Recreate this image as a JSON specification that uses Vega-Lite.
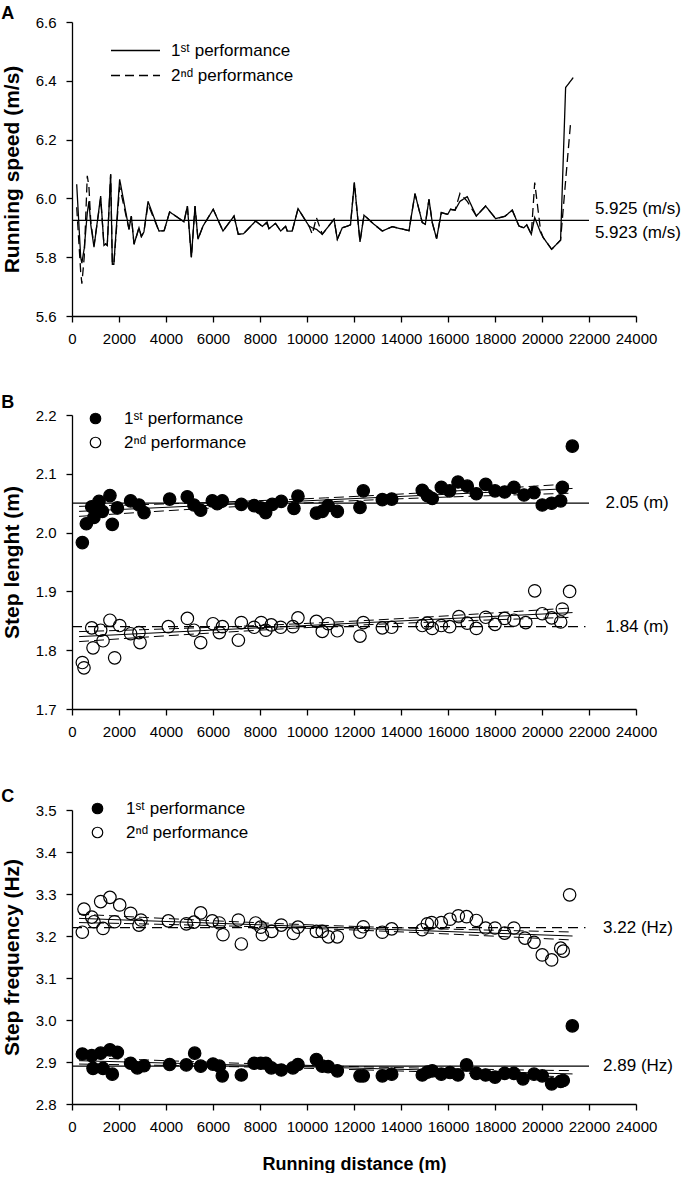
{
  "$schema": "https://vega.github.io/schema/vega-lite/v6.json",
  "padding": {"left": 1, "top": 5, "right": 0, "bottom": 0},
  "background": "white",
  "spacing": 48,
  "datasets": {
    "one": [{}],
    "speed": [
      {"d":200,"v":6.048,"p":"1st"},{"d":370,"v":5.80,"p":"1st"},{"d":420,"v":5.78,"p":"1st"},{"d":520,"v":5.83,"p":"1st"},{"d":650,"v":5.95,"p":"1st"},{"d":720,"v":5.99,"p":"1st"},{"d":800,"v":5.91,"p":"1st"},{"d":936,"v":5.834,"p":"1st"},{"d":1220,"v":6.008,"p":"1st"},{"d":1360,"v":5.84,"p":"1st"},{"d":1433,"v":5.845,"p":"1st"},{"d":1500,"v":5.84,"p":"1st"},{"d":1645,"v":6.082,"p":"1st"},{"d":1716,"v":5.776,"p":"1st"},{"d":1780,"v":5.776,"p":"1st"},{"d":2028,"v":6.065,"p":"1st"},{"d":2425,"v":5.895,"p":"1st"},{"d":2525,"v":5.94,"p":"1st"},{"d":2640,"v":5.844,"p":"1st"},{"d":2850,"v":5.90,"p":"1st"},{"d":2950,"v":5.87,"p":"1st"},{"d":3060,"v":5.886,"p":"1st"},{"d":3235,"v":5.99,"p":"1st"},{"d":3700,"v":5.889,"p":"1st"},{"d":3920,"v":5.89,"p":"1st"},{"d":4155,"v":5.954,"p":"1st"},{"d":4500,"v":5.935,"p":"1st"},{"d":4765,"v":5.92,"p":"1st"},{"d":4910,"v":5.974,"p":"1st"},{"d":5080,"v":5.799,"p":"1st"},{"d":5235,"v":5.974,"p":"1st"},{"d":5360,"v":5.861,"p":"1st"},{"d":5575,"v":5.906,"p":"1st"},{"d":6010,"v":5.963,"p":"1st"},{"d":6425,"v":5.889,"p":"1st"},{"d":6895,"v":5.94,"p":"1st"},{"d":7075,"v":5.878,"p":"1st"},{"d":7300,"v":5.88,"p":"1st"},{"d":7815,"v":5.923,"p":"1st"},{"d":8100,"v":5.905,"p":"1st"},{"d":8300,"v":5.92,"p":"1st"},{"d":8380,"v":5.897,"p":"1st"},{"d":8660,"v":5.915,"p":"1st"},{"d":8880,"v":5.889,"p":"1st"},{"d":9090,"v":5.905,"p":"1st"},{"d":9160,"v":5.889,"p":"1st"},{"d":9370,"v":5.889,"p":"1st"},{"d":9620,"v":5.965,"p":"1st"},{"d":10085,"v":5.906,"p":"1st"},{"d":10225,"v":5.90,"p":"1st"},{"d":10400,"v":5.895,"p":"1st"},{"d":10650,"v":5.878,"p":"1st"},{"d":11150,"v":5.929,"p":"1st"},{"d":11290,"v":5.861,"p":"1st"},{"d":11500,"v":5.90,"p":"1st"},{"d":11720,"v":5.906,"p":"1st"},{"d":11850,"v":5.91,"p":"1st"},{"d":12015,"v":6.054,"p":"1st"},{"d":12255,"v":5.852,"p":"1st"},{"d":12425,"v":5.943,"p":"1st"},{"d":12850,"v":5.912,"p":"1st"},{"d":13205,"v":5.889,"p":"1st"},{"d":13630,"v":5.904,"p":"1st"},{"d":14340,"v":5.89,"p":"1st"},{"d":14595,"v":6.016,"p":"1st"},{"d":14905,"v":5.918,"p":"1st"},{"d":15035,"v":5.912,"p":"1st"},{"d":15190,"v":5.997,"p":"1st"},{"d":15330,"v":5.918,"p":"1st"},{"d":15515,"v":5.863,"p":"1st"},{"d":15715,"v":5.952,"p":"1st"},{"d":15990,"v":5.946,"p":"1st"},{"d":16110,"v":5.963,"p":"1st"},{"d":16300,"v":5.96,"p":"1st"},{"d":16510,"v":5.99,"p":"1st"},{"d":16820,"v":6.006,"p":"1st"},{"d":17205,"v":5.94,"p":"1st"},{"d":17600,"v":5.974,"p":"1st"},{"d":18030,"v":5.931,"p":"1st"},{"d":18420,"v":5.939,"p":"1st"},{"d":18735,"v":5.96,"p":"1st"},{"d":19020,"v":5.906,"p":"1st"},{"d":19220,"v":5.90,"p":"1st"},{"d":19350,"v":5.91,"p":"1st"},{"d":19545,"v":5.878,"p":"1st"},{"d":19690,"v":5.935,"p":"1st"},{"d":19940,"v":5.884,"p":"1st"},{"d":20050,"v":5.867,"p":"1st"},{"d":20410,"v":5.827,"p":"1st"},{"d":20790,"v":5.858,"p":"1st"},{"d":21005,"v":6.377,"p":"1st"},{"d":21330,"v":6.411,"p":"1st"},
      {"d":200,"v":5.97,"p":"2nd"},{"d":370,"v":5.75,"p":"2nd"},{"d":420,"v":5.71,"p":"2nd"},{"d":520,"v":5.80,"p":"2nd"},{"d":650,"v":6.077,"p":"2nd"},{"d":720,"v":6.04,"p":"2nd"},{"d":800,"v":5.92,"p":"2nd"},{"d":936,"v":5.84,"p":"2nd"},{"d":1220,"v":6.0,"p":"2nd"},{"d":1360,"v":5.84,"p":"2nd"},{"d":1433,"v":5.845,"p":"2nd"},{"d":1500,"v":5.84,"p":"2nd"},{"d":1645,"v":6.082,"p":"2nd"},{"d":1716,"v":5.78,"p":"2nd"},{"d":1780,"v":5.776,"p":"2nd"},{"d":2028,"v":6.04,"p":"2nd"},{"d":2425,"v":5.895,"p":"2nd"},{"d":2525,"v":5.94,"p":"2nd"},{"d":2640,"v":5.844,"p":"2nd"},{"d":2850,"v":5.90,"p":"2nd"},{"d":2950,"v":5.87,"p":"2nd"},{"d":3060,"v":5.886,"p":"2nd"},{"d":3235,"v":5.98,"p":"2nd"},{"d":3700,"v":5.889,"p":"2nd"},{"d":3920,"v":5.89,"p":"2nd"},{"d":4155,"v":5.954,"p":"2nd"},{"d":4500,"v":5.935,"p":"2nd"},{"d":4765,"v":5.92,"p":"2nd"},{"d":4910,"v":5.974,"p":"2nd"},{"d":5080,"v":5.80,"p":"2nd"},{"d":5235,"v":5.974,"p":"2nd"},{"d":5360,"v":5.861,"p":"2nd"},{"d":5575,"v":5.906,"p":"2nd"},{"d":6010,"v":5.963,"p":"2nd"},{"d":6425,"v":5.889,"p":"2nd"},{"d":6895,"v":5.94,"p":"2nd"},{"d":7075,"v":5.878,"p":"2nd"},{"d":7300,"v":5.88,"p":"2nd"},{"d":7815,"v":5.923,"p":"2nd"},{"d":8100,"v":5.905,"p":"2nd"},{"d":8300,"v":5.915,"p":"2nd"},{"d":8380,"v":5.897,"p":"2nd"},{"d":8660,"v":5.915,"p":"2nd"},{"d":8880,"v":5.889,"p":"2nd"},{"d":9090,"v":5.905,"p":"2nd"},{"d":9160,"v":5.889,"p":"2nd"},{"d":9370,"v":5.889,"p":"2nd"},{"d":9620,"v":5.965,"p":"2nd"},{"d":10085,"v":5.906,"p":"2nd"},{"d":10225,"v":5.878,"p":"2nd"},{"d":10400,"v":5.935,"p":"2nd"},{"d":10650,"v":5.878,"p":"2nd"},{"d":11150,"v":5.929,"p":"2nd"},{"d":11290,"v":5.861,"p":"2nd"},{"d":11500,"v":5.90,"p":"2nd"},{"d":11720,"v":5.906,"p":"2nd"},{"d":11850,"v":5.91,"p":"2nd"},{"d":12015,"v":6.054,"p":"2nd"},{"d":12255,"v":5.852,"p":"2nd"},{"d":12425,"v":5.943,"p":"2nd"},{"d":12850,"v":5.912,"p":"2nd"},{"d":13205,"v":5.889,"p":"2nd"},{"d":13630,"v":5.904,"p":"2nd"},{"d":14340,"v":5.89,"p":"2nd"},{"d":14595,"v":6.016,"p":"2nd"},{"d":14905,"v":5.918,"p":"2nd"},{"d":15035,"v":5.912,"p":"2nd"},{"d":15190,"v":5.997,"p":"2nd"},{"d":15330,"v":5.918,"p":"2nd"},{"d":15515,"v":5.863,"p":"2nd"},{"d":15715,"v":5.952,"p":"2nd"},{"d":15990,"v":5.946,"p":"2nd"},{"d":16110,"v":5.963,"p":"2nd"},{"d":16300,"v":5.96,"p":"2nd"},{"d":16510,"v":6.017,"p":"2nd"},{"d":16820,"v":5.99,"p":"2nd"},{"d":17205,"v":5.94,"p":"2nd"},{"d":17600,"v":5.974,"p":"2nd"},{"d":18030,"v":5.931,"p":"2nd"},{"d":18420,"v":5.939,"p":"2nd"},{"d":18735,"v":5.96,"p":"2nd"},{"d":19020,"v":5.906,"p":"2nd"},{"d":19220,"v":5.90,"p":"2nd"},{"d":19350,"v":5.91,"p":"2nd"},{"d":19545,"v":5.878,"p":"2nd"},{"d":19690,"v":6.054,"p":"2nd"},{"d":19940,"v":5.89,"p":"2nd"},{"d":20050,"v":5.867,"p":"2nd"},{"d":20410,"v":5.827,"p":"2nd"},{"d":20790,"v":5.858,"p":"2nd"},{"d":21005,"v":6.06,"p":"2nd"},{"d":21220,"v":6.26,"p":"2nd"}
    ],
    "stepLen": [
      {"d":440,"v":1.983,"p":"1st"},{"d":610,"v":2.015,"p":"1st"},{"d":840,"v":2.044,"p":"1st"},{"d":935,"v":2.026,"p":"1st"},{"d":1150,"v":2.053,"p":"1st"},{"d":1290,"v":2.036,"p":"1st"},{"d":1615,"v":2.063,"p":"1st"},{"d":1715,"v":2.014,"p":"1st"},{"d":1930,"v":2.042,"p":"1st"},{"d":2495,"v":2.054,"p":"1st"},{"d":2850,"v":2.047,"p":"1st"},{"d":3065,"v":2.034,"p":"1st"},{"d":4155,"v":2.057,"p":"1st"},{"d":4905,"v":2.061,"p":"1st"},{"d":5190,"v":2.047,"p":"1st"},{"d":5475,"v":2.038,"p":"1st"},{"d":5970,"v":2.054,"p":"1st"},{"d":6180,"v":2.049,"p":"1st"},{"d":6395,"v":2.054,"p":"1st"},{"d":7205,"v":2.048,"p":"1st"},{"d":7750,"v":2.046,"p":"1st"},{"d":8030,"v":2.042,"p":"1st"},{"d":8240,"v":2.034,"p":"1st"},{"d":8520,"v":2.048,"p":"1st"},{"d":8905,"v":2.053,"p":"1st"},{"d":9445,"v":2.041,"p":"1st"},{"d":9615,"v":2.062,"p":"1st"},{"d":10400,"v":2.033,"p":"1st"},{"d":10650,"v":2.036,"p":"1st"},{"d":10900,"v":2.046,"p":"1st"},{"d":11290,"v":2.036,"p":"1st"},{"d":12255,"v":2.043,"p":"1st"},{"d":12395,"v":2.071,"p":"1st"},{"d":13205,"v":2.056,"p":"1st"},{"d":13605,"v":2.057,"p":"1st"},{"d":14905,"v":2.072,"p":"1st"},{"d":15120,"v":2.063,"p":"1st"},{"d":15330,"v":2.058,"p":"1st"},{"d":15715,"v":2.077,"p":"1st"},{"d":16070,"v":2.071,"p":"1st"},{"d":16425,"v":2.086,"p":"1st"},{"d":16820,"v":2.079,"p":"1st"},{"d":17205,"v":2.066,"p":"1st"},{"d":17605,"v":2.082,"p":"1st"},{"d":18000,"v":2.071,"p":"1st"},{"d":18410,"v":2.069,"p":"1st"},{"d":18805,"v":2.077,"p":"1st"},{"d":19235,"v":2.064,"p":"1st"},{"d":19660,"v":2.068,"p":"1st"},{"d":20010,"v":2.047,"p":"1st"},{"d":20410,"v":2.050,"p":"1st"},{"d":20795,"v":2.054,"p":"1st"},{"d":20865,"v":2.077,"p":"1st"},{"d":21290,"v":2.147,"p":"1st"},
      {"d":440,"v":1.779,"p":"2nd"},{"d":510,"v":1.770,"p":"2nd"},{"d":840,"v":1.838,"p":"2nd"},{"d":895,"v":1.804,"p":"2nd"},{"d":1220,"v":1.834,"p":"2nd"},{"d":1320,"v":1.816,"p":"2nd"},{"d":1615,"v":1.851,"p":"2nd"},{"d":1815,"v":1.787,"p":"2nd"},{"d":2030,"v":1.842,"p":"2nd"},{"d":2495,"v":1.828,"p":"2nd"},{"d":2850,"v":1.830,"p":"2nd"},{"d":2895,"v":1.813,"p":"2nd"},{"d":4100,"v":1.840,"p":"2nd"},{"d":4910,"v":1.854,"p":"2nd"},{"d":5190,"v":1.834,"p":"2nd"},{"d":5475,"v":1.813,"p":"2nd"},{"d":6000,"v":1.845,"p":"2nd"},{"d":6270,"v":1.830,"p":"2nd"},{"d":6400,"v":1.840,"p":"2nd"},{"d":7080,"v":1.817,"p":"2nd"},{"d":7205,"v":1.847,"p":"2nd"},{"d":7750,"v":1.839,"p":"2nd"},{"d":8050,"v":1.847,"p":"2nd"},{"d":8250,"v":1.834,"p":"2nd"},{"d":8480,"v":1.843,"p":"2nd"},{"d":8880,"v":1.839,"p":"2nd"},{"d":9400,"v":1.840,"p":"2nd"},{"d":9615,"v":1.855,"p":"2nd"},{"d":10400,"v":1.849,"p":"2nd"},{"d":10650,"v":1.832,"p":"2nd"},{"d":10900,"v":1.845,"p":"2nd"},{"d":11290,"v":1.833,"p":"2nd"},{"d":12255,"v":1.824,"p":"2nd"},{"d":12395,"v":1.847,"p":"2nd"},{"d":13205,"v":1.838,"p":"2nd"},{"d":13605,"v":1.839,"p":"2nd"},{"d":14905,"v":1.842,"p":"2nd"},{"d":15120,"v":1.846,"p":"2nd"},{"d":15330,"v":1.837,"p":"2nd"},{"d":15715,"v":1.842,"p":"2nd"},{"d":16070,"v":1.840,"p":"2nd"},{"d":16465,"v":1.857,"p":"2nd"},{"d":16820,"v":1.846,"p":"2nd"},{"d":17205,"v":1.837,"p":"2nd"},{"d":17605,"v":1.856,"p":"2nd"},{"d":18000,"v":1.844,"p":"2nd"},{"d":18410,"v":1.854,"p":"2nd"},{"d":18805,"v":1.851,"p":"2nd"},{"d":19310,"v":1.847,"p":"2nd"},{"d":19690,"v":1.901,"p":"2nd"},{"d":20010,"v":1.862,"p":"2nd"},{"d":20410,"v":1.855,"p":"2nd"},{"d":20795,"v":1.848,"p":"2nd"},{"d":20865,"v":1.870,"p":"2nd"},{"d":21175,"v":1.900,"p":"2nd"}
    ],
    "stepFreq": [
      {"d":440,"v":2.919,"p":"1st"},{"d":840,"v":2.915,"p":"1st"},{"d":895,"v":2.885,"p":"1st"},{"d":1220,"v":2.921,"p":"1st"},{"d":1320,"v":2.885,"p":"1st"},{"d":1615,"v":2.929,"p":"1st"},{"d":1715,"v":2.871,"p":"1st"},{"d":1930,"v":2.923,"p":"1st"},{"d":2495,"v":2.897,"p":"1st"},{"d":2780,"v":2.886,"p":"1st"},{"d":3065,"v":2.891,"p":"1st"},{"d":4155,"v":2.894,"p":"1st"},{"d":4865,"v":2.893,"p":"1st"},{"d":5220,"v":2.921,"p":"1st"},{"d":5475,"v":2.89,"p":"1st"},{"d":6000,"v":2.895,"p":"1st"},{"d":6270,"v":2.890,"p":"1st"},{"d":6395,"v":2.867,"p":"1st"},{"d":7205,"v":2.869,"p":"1st"},{"d":7750,"v":2.897,"p":"1st"},{"d":8030,"v":2.897,"p":"1st"},{"d":8250,"v":2.897,"p":"1st"},{"d":8480,"v":2.886,"p":"1st"},{"d":8905,"v":2.881,"p":"1st"},{"d":9400,"v":2.886,"p":"1st"},{"d":9615,"v":2.894,"p":"1st"},{"d":10400,"v":2.906,"p":"1st"},{"d":10650,"v":2.890,"p":"1st"},{"d":10900,"v":2.889,"p":"1st"},{"d":11290,"v":2.879,"p":"1st"},{"d":12255,"v":2.867,"p":"1st"},{"d":12395,"v":2.867,"p":"1st"},{"d":13205,"v":2.867,"p":"1st"},{"d":13605,"v":2.871,"p":"1st"},{"d":14905,"v":2.869,"p":"1st"},{"d":15120,"v":2.876,"p":"1st"},{"d":15330,"v":2.879,"p":"1st"},{"d":15715,"v":2.871,"p":"1st"},{"d":16085,"v":2.875,"p":"1st"},{"d":16425,"v":2.869,"p":"1st"},{"d":16790,"v":2.893,"p":"1st"},{"d":17205,"v":2.873,"p":"1st"},{"d":17600,"v":2.869,"p":"1st"},{"d":18000,"v":2.864,"p":"1st"},{"d":18410,"v":2.873,"p":"1st"},{"d":18805,"v":2.873,"p":"1st"},{"d":19190,"v":2.860,"p":"1st"},{"d":19660,"v":2.871,"p":"1st"},{"d":20010,"v":2.867,"p":"1st"},{"d":20410,"v":2.848,"p":"1st"},{"d":20795,"v":2.854,"p":"1st"},{"d":20905,"v":2.856,"p":"1st"},{"d":21290,"v":2.986,"p":"1st"},
      {"d":440,"v":3.209,"p":"2nd"},{"d":510,"v":3.264,"p":"2nd"},{"d":840,"v":3.245,"p":"2nd"},{"d":935,"v":3.234,"p":"2nd"},{"d":1220,"v":3.282,"p":"2nd"},{"d":1320,"v":3.218,"p":"2nd"},{"d":1615,"v":3.292,"p":"2nd"},{"d":1815,"v":3.234,"p":"2nd"},{"d":2030,"v":3.274,"p":"2nd"},{"d":2495,"v":3.254,"p":"2nd"},{"d":2850,"v":3.226,"p":"2nd"},{"d":2935,"v":3.238,"p":"2nd"},{"d":4100,"v":3.236,"p":"2nd"},{"d":4865,"v":3.229,"p":"2nd"},{"d":5190,"v":3.233,"p":"2nd"},{"d":5475,"v":3.255,"p":"2nd"},{"d":5970,"v":3.236,"p":"2nd"},{"d":6270,"v":3.231,"p":"2nd"},{"d":6425,"v":3.203,"p":"2nd"},{"d":7080,"v":3.238,"p":"2nd"},{"d":7205,"v":3.181,"p":"2nd"},{"d":7815,"v":3.231,"p":"2nd"},{"d":8030,"v":3.221,"p":"2nd"},{"d":8100,"v":3.203,"p":"2nd"},{"d":8500,"v":3.211,"p":"2nd"},{"d":8905,"v":3.226,"p":"2nd"},{"d":9420,"v":3.206,"p":"2nd"},{"d":9615,"v":3.221,"p":"2nd"},{"d":10400,"v":3.211,"p":"2nd"},{"d":10650,"v":3.211,"p":"2nd"},{"d":10910,"v":3.198,"p":"2nd"},{"d":11290,"v":3.198,"p":"2nd"},{"d":12255,"v":3.209,"p":"2nd"},{"d":12395,"v":3.222,"p":"2nd"},{"d":13205,"v":3.209,"p":"2nd"},{"d":13605,"v":3.217,"p":"2nd"},{"d":14905,"v":3.215,"p":"2nd"},{"d":15120,"v":3.229,"p":"2nd"},{"d":15305,"v":3.232,"p":"2nd"},{"d":15715,"v":3.232,"p":"2nd"},{"d":16085,"v":3.240,"p":"2nd"},{"d":16440,"v":3.248,"p":"2nd"},{"d":16790,"v":3.246,"p":"2nd"},{"d":17205,"v":3.237,"p":"2nd"},{"d":17600,"v":3.219,"p":"2nd"},{"d":18000,"v":3.219,"p":"2nd"},{"d":18410,"v":3.207,"p":"2nd"},{"d":18805,"v":3.219,"p":"2nd"},{"d":19275,"v":3.195,"p":"2nd"},{"d":19660,"v":3.185,"p":"2nd"},{"d":20010,"v":3.155,"p":"2nd"},{"d":20410,"v":3.143,"p":"2nd"},{"d":20795,"v":3.171,"p":"2nd"},{"d":20905,"v":3.164,"p":"2nd"},{"d":21175,"v":3.298,"p":"2nd"}
    ],
    "fitLen": [
      {"d":300,"v":2.0361,"p":"1st","k":"fit"},{"d":21300,"v":2.0751,"p":"1st","k":"fit"},
      {"d":300,"v":2.0446,"p":"1st","k":"hi"},{"d":3000,"v":2.0476,"p":"1st","k":"hi"},{"d":6000,"v":2.0515,"p":"1st","k":"hi"},{"d":10800,"v":2.0591,"p":"1st","k":"hi"},{"d":16000,"v":2.0701,"p":"1st","k":"hi"},{"d":19000,"v":2.0773,"p":"1st","k":"hi"},{"d":21300,"v":2.0831,"p":"1st","k":"hi"},
      {"d":300,"v":2.0276,"p":"1st","k":"lo"},{"d":3000,"v":2.0346,"p":"1st","k":"lo"},{"d":6000,"v":2.0419,"p":"1st","k":"lo"},{"d":10800,"v":2.0521,"p":"1st","k":"lo"},{"d":16000,"v":2.0605,"p":"1st","k":"lo"},{"d":19000,"v":2.0643,"p":"1st","k":"lo"},{"d":21300,"v":2.0671,"p":"1st","k":"lo"},
      {"d":300,"v":1.8231,"p":"2nd","k":"fit"},{"d":21300,"v":1.8640,"p":"2nd","k":"fit"},
      {"d":300,"v":1.8316,"p":"2nd","k":"hi"},{"d":3000,"v":1.8349,"p":"2nd","k":"hi"},{"d":6000,"v":1.8390,"p":"2nd","k":"hi"},{"d":10800,"v":1.8471,"p":"2nd","k":"hi"},{"d":16000,"v":1.8585,"p":"2nd","k":"hi"},{"d":19000,"v":1.8661,"p":"2nd","k":"hi"},{"d":21300,"v":1.8720,"p":"2nd","k":"hi"},
      {"d":300,"v":1.8146,"p":"2nd","k":"lo"},{"d":3000,"v":1.8219,"p":"2nd","k":"lo"},{"d":6000,"v":1.8294,"p":"2nd","k":"lo"},{"d":10800,"v":1.8401,"p":"2nd","k":"lo"},{"d":16000,"v":1.8489,"p":"2nd","k":"lo"},{"d":19000,"v":1.8531,"p":"2nd","k":"lo"},{"d":21300,"v":1.8560,"p":"2nd","k":"lo"}
    ],
    "fitFreq": [
      {"d":300,"v":3.2420,"p":"2nd","k":"fit"},{"d":21300,"v":3.2000,"p":"2nd","k":"fit"},
      {"d":300,"v":3.2520,"p":"2nd","k":"hi"},{"d":3000,"v":3.2444,"p":"2nd","k":"hi"},{"d":6000,"v":3.2364,"p":"2nd","k":"hi"},{"d":10800,"v":3.2252,"p":"2nd","k":"hi"},{"d":16000,"v":3.2164,"p":"2nd","k":"hi"},{"d":19000,"v":3.2124,"p":"2nd","k":"hi"},{"d":21300,"v":3.2095,"p":"2nd","k":"hi"},
      {"d":300,"v":3.2320,"p":"2nd","k":"lo"},{"d":3000,"v":3.2288,"p":"2nd","k":"lo"},{"d":6000,"v":3.2248,"p":"2nd","k":"lo"},{"d":10800,"v":3.2168,"p":"2nd","k":"lo"},{"d":16000,"v":3.2048,"p":"2nd","k":"lo"},{"d":19000,"v":3.1968,"p":"2nd","k":"lo"},{"d":21300,"v":3.1905,"p":"2nd","k":"lo"},
      {"d":300,"v":2.9031,"p":"1st","k":"fit"},{"d":21300,"v":2.8716,"p":"1st","k":"fit"},
      {"d":300,"v":2.9111,"p":"1st","k":"hi"},{"d":3000,"v":2.9052,"p":"1st","k":"hi"},{"d":6000,"v":2.8992,"p":"1st","k":"hi"},{"d":10800,"v":2.8908,"p":"1st","k":"hi"},{"d":16000,"v":2.8842,"p":"1st","k":"hi"},{"d":19000,"v":2.8812,"p":"1st","k":"hi"},{"d":21300,"v":2.8794,"p":"1st","k":"hi"},
      {"d":300,"v":2.8951,"p":"1st","k":"lo"},{"d":3000,"v":2.8928,"p":"1st","k":"lo"},{"d":6000,"v":2.8898,"p":"1st","k":"lo"},{"d":10800,"v":2.8838,"p":"1st","k":"lo"},{"d":16000,"v":2.8748,"p":"1st","k":"lo"},{"d":19000,"v":2.8688,"p":"1st","k":"lo"},{"d":21300,"v":2.8638,"p":"1st","k":"lo"}
    ]
  },
  "vconcat": [
    {
      "width": 564, "height": 294,
      "title": {"text": "A", "offset": -8},
      "encoding": {
        "x": {"type": "quantitative", "scale": {"domain": [0, 24000], "nice": false}, "axis": {"title": null, "values": [0,2000,4000,6000,8000,10000,12000,14000,16000,18000,20000,22000,24000], "format": "d"}}
      },
      "layer": [
        {
          "data": {"name": "speed"},
          "mark": {"type": "line", "color": "black", "strokeWidth": 1.3},
          "encoding": {
            "x": {"field": "d", "type": "quantitative"},
            "y": {"field": "v", "type": "quantitative", "scale": {"domain": [5.6, 6.6], "nice": false, "zero": false}, "axis": {"title": "Running speed (m/s)", "values": [5.6,5.8,6.0,6.2,6.4,6.6], "format": ".1f"}},
            "strokeDash": {"field": "p", "type": "nominal", "scale": {"domain": ["1st", "2nd"], "range": [[1, 0], [9, 5]]},
              "legend": {"orient": "none", "legendX": 38, "legendY": 16, "title": null, "symbolType": "stroke", "symbolSize": 2400, "symbolStrokeWidth": 1.3, "symbolStrokeColor": "black", "clipHeight": 25, "rowPadding": 0, "labelFontSize": 17, "labelOffset": 10, "labelExpr": "datum.label == '1st' ? '1ˢᵗ performance' : '2ⁿᵈ performance'"}}
          }
        },
        {
          "data": {"name": "one"},
          "mark": {"type": "rule", "color": "black", "strokeWidth": 1.3},
          "encoding": {"x": {"datum": 0}, "x2": {"datum": 22000}, "y": {"datum": 5.925}}
        },
        {
          "data": {"name": "one"},
          "mark": {"type": "text", "align": "left", "baseline": "middle", "fontSize": 17, "dy": -11, "color": "black"},
          "encoding": {"x": {"datum": 22250}, "y": {"datum": 5.925}, "text": {"value": "5.925 (m/s)"}}
        },
        {
          "data": {"name": "one"},
          "mark": {"type": "text", "align": "left", "baseline": "middle", "fontSize": 17, "dy": 13, "color": "black"},
          "encoding": {"x": {"datum": 22250}, "y": {"datum": 5.925}, "text": {"value": "5.923 (m/s)"}}
        }
      ]
    },
    {
      "width": 564, "height": 294,
      "title": {"text": "B", "offset": -4},
      "encoding": {
        "x": {"type": "quantitative", "scale": {"domain": [0, 24000], "nice": false}, "axis": {"title": null, "values": [0,2000,4000,6000,8000,10000,12000,14000,16000,18000,20000,22000,24000], "format": "d"}}
      },
      "layer": [
        {
          "data": {"name": "fitLen"},
          "transform": [{"filter": "datum.k == 'fit'"}],
          "mark": {"type": "line", "color": "black", "strokeWidth": 1},
          "encoding": {
            "x": {"field": "d", "type": "quantitative"},
            "y": {"field": "v", "type": "quantitative", "scale": {"domain": [1.7, 2.2], "nice": false, "zero": false}, "axis": {"title": "Step lenght (m)", "values": [1.7,1.8,1.9,2.0,2.1,2.2], "format": ".1f"}},
            "detail": {"field": "p"}
          }
        },
        {
          "data": {"name": "fitLen"},
          "transform": [{"filter": "datum.k != 'fit'"}],
          "mark": {"type": "line", "color": "black", "strokeWidth": 1, "strokeDash": [10, 5], "interpolate": "monotone"},
          "encoding": {
            "x": {"field": "d", "type": "quantitative"},
            "y": {"field": "v", "type": "quantitative"},
            "detail": [{"field": "p"}, {"field": "k"}]
          }
        },
        {
          "data": {"name": "one"},
          "mark": {"type": "rule", "color": "black", "strokeWidth": 1.3},
          "encoding": {"x": {"datum": 0}, "x2": {"datum": 22000}, "y": {"datum": 2.05}}
        },
        {
          "data": {"name": "one"},
          "mark": {"type": "rule", "color": "black", "strokeWidth": 1.3, "strokeDash": [10, 6]},
          "encoding": {"x": {"datum": 0}, "x2": {"datum": 21850}, "y": {"datum": 1.84}}
        },
        {
          "data": {"name": "stepLen"},
          "mark": {"type": "point", "shape": "circle", "filled": true, "size": 155, "stroke": "black", "strokeWidth": 1.2, "opacity": 1},
          "encoding": {
            "x": {"field": "d", "type": "quantitative"},
            "y": {"field": "v", "type": "quantitative"},
            "fill": {"field": "p", "type": "nominal", "scale": {"domain": ["1st", "2nd"], "range": ["black", "transparent"]},
              "legend": {"orient": "none", "legendX": 15, "legendY": -5, "title": null, "symbolType": "circle", "symbolSize": 110, "symbolStrokeWidth": 1.2, "symbolStrokeColor": "black", "rowPadding": 6, "labelFontSize": 17, "labelOffset": 20, "labelExpr": "datum.label == '1st' ? '1ˢᵗ performance' : '2ⁿᵈ performance'"}}
          }
        },
        {
          "data": {"name": "one"},
          "mark": {"type": "text", "align": "left", "baseline": "middle", "fontSize": 17, "color": "black"},
          "encoding": {"x": {"datum": 22700}, "y": {"datum": 2.05}, "text": {"value": "2.05 (m)"}}
        },
        {
          "data": {"name": "one"},
          "mark": {"type": "text", "align": "left", "baseline": "middle", "fontSize": 17, "color": "black"},
          "encoding": {"x": {"datum": 22700}, "y": {"datum": 1.84}, "text": {"value": "1.84 (m)"}}
        }
      ]
    },
    {
      "width": 564, "height": 294,
      "title": {"text": "C", "offset": -5.5},
      "encoding": {
        "x": {"type": "quantitative", "scale": {"domain": [0, 24000], "nice": false}, "axis": {"title": "Running distance (m)", "titleFontSize": 18, "titlePadding": 21, "values": [0,2000,4000,6000,8000,10000,12000,14000,16000,18000,20000,22000,24000], "format": "d"}}
      },
      "layer": [
        {
          "data": {"name": "fitFreq"},
          "transform": [{"filter": "datum.k == 'fit'"}],
          "mark": {"type": "line", "color": "black", "strokeWidth": 1},
          "encoding": {
            "x": {"field": "d", "type": "quantitative"},
            "y": {"field": "v", "type": "quantitative", "scale": {"domain": [2.8, 3.5], "nice": false, "zero": false}, "axis": {"title": "Step frequency (Hz)", "values": [2.8,2.9,3.0,3.1,3.2,3.3,3.4,3.5], "format": ".1f"}},
            "detail": {"field": "p"}
          }
        },
        {
          "data": {"name": "fitFreq"},
          "transform": [{"filter": "datum.k != 'fit'"}],
          "mark": {"type": "line", "color": "black", "strokeWidth": 1, "strokeDash": [10, 5], "interpolate": "monotone"},
          "encoding": {
            "x": {"field": "d", "type": "quantitative"},
            "y": {"field": "v", "type": "quantitative"},
            "detail": [{"field": "p"}, {"field": "k"}]
          }
        },
        {
          "data": {"name": "one"},
          "mark": {"type": "rule", "color": "black", "strokeWidth": 1.3, "strokeDash": [10, 6]},
          "encoding": {"x": {"datum": 0}, "x2": {"datum": 21850}, "y": {"datum": 3.22}}
        },
        {
          "data": {"name": "one"},
          "mark": {"type": "rule", "color": "black", "strokeWidth": 1.3},
          "encoding": {"x": {"datum": 0}, "x2": {"datum": 22000}, "y": {"datum": 2.89}}
        },
        {
          "data": {"name": "stepFreq"},
          "mark": {"type": "point", "shape": "circle", "filled": true, "size": 155, "stroke": "black", "strokeWidth": 1.2, "opacity": 1},
          "encoding": {
            "x": {"field": "d", "type": "quantitative"},
            "y": {"field": "v", "type": "quantitative"},
            "fill": {"field": "p", "type": "nominal", "scale": {"domain": ["1st", "2nd"], "range": ["black", "transparent"]},
              "legend": {"orient": "none", "legendX": 17, "legendY": -10, "title": null, "symbolType": "circle", "symbolSize": 110, "symbolStrokeWidth": 1.2, "symbolStrokeColor": "black", "rowPadding": 6, "labelFontSize": 17, "labelOffset": 20, "labelExpr": "datum.label == '1st' ? '1ˢᵗ performance' : '2ⁿᵈ performance'"}}
          }
        },
        {
          "data": {"name": "one"},
          "mark": {"type": "text", "align": "left", "baseline": "middle", "fontSize": 17, "color": "black"},
          "encoding": {"x": {"datum": 22600}, "y": {"datum": 3.22}, "text": {"value": "3.22 (Hz)"}}
        },
        {
          "data": {"name": "one"},
          "mark": {"type": "text", "align": "left", "baseline": "middle", "fontSize": 17, "color": "black"},
          "encoding": {"x": {"datum": 22600}, "y": {"datum": 2.89}, "text": {"value": "2.89 (Hz)"}}
        }
      ]
    }
  ],
  "resolve": {"scale": {"fill": "independent", "strokeDash": "independent"}, "legend": {"fill": "independent", "strokeDash": "independent"}},
  "config": {
    "font": "Liberation Sans",
    "view": {"stroke": null},
    "axis": {"grid": false, "domainColor": "black", "tickColor": "black", "domainWidth": 1.3, "tickWidth": 1.3, "tickSize": 6, "labelColor": "black", "labelFont": "Liberation Sans", "labelFontSize": 15, "labelFlush": false, "labelOverlap": false, "titleColor": "black", "titleFont": "Liberation Sans", "titleFontWeight": "bold", "titleFontSize": 21},
    "axisX": {"labelPadding": 9},
    "axisY": {"labelPadding": 10, "titlePadding": 13},
    "title": {"anchor": "start", "frame": "bounds", "fontSize": 18, "fontWeight": "bold", "color": "black"},
    "legend": {"labelColor": "black", "labelFont": "Liberation Sans"}
  }
}
